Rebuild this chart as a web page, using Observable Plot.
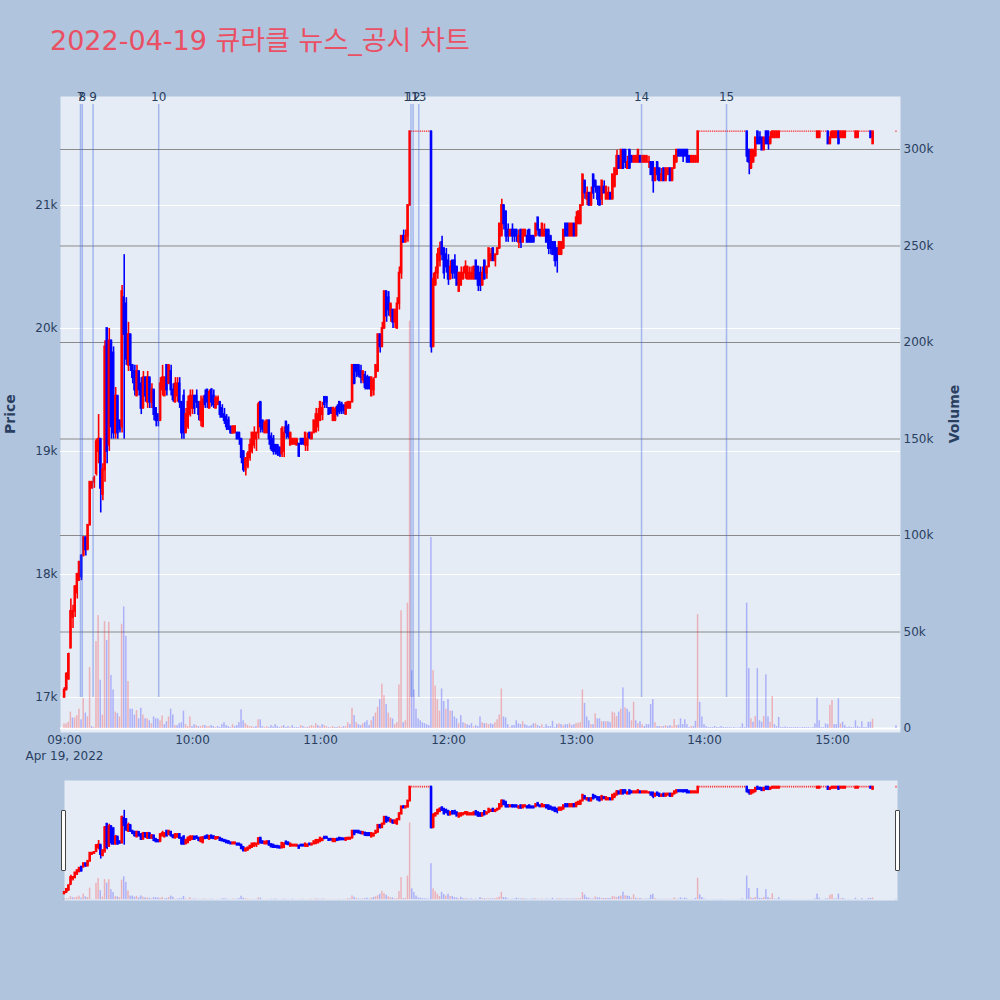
<!DOCTYPE html>
<html><head><meta charset="utf-8">
<script src="https://cdn.jsdelivr.net/npm/d3@7"></script>
<script src="https://cdn.jsdelivr.net/npm/@observablehq/plot@0.6"></script>
<style>
html,body{margin:0;padding:0;background:#B0C4DE;}
#root{position:relative;width:1000px;height:1000px;background:#B0C4DE;overflow:hidden;font-family:"DejaVu Sans","Noto Sans CJK KR",sans-serif;}
#root svg{position:absolute;left:0;}
#title{position:absolute;left:50px;top:27px;font-size:27px;line-height:27px;color:#EA4F63;white-space:nowrap;font-family:"DejaVu Sans","Noto Sans CJK KR",sans-serif;}
.ytitle{position:absolute;width:100px;height:18px;line-height:18px;text-align:center;font-size:14px;font-weight:bold;color:#2a3f5f;transform:rotate(-90deg);font-family:"DejaVu Sans",sans-serif;}
.handle{position:absolute;width:3px;height:59px;background:#fff;border:1px solid #444;border-radius:1px;}
</style></head>
<body><div id="root"></div>
<script>
// ---- data ----
const titleText = "2022-04-19 큐라클 뉴스_공시 차트";
const dateLabel = "Apr 19, 2022";
const yTitle = "Price";
const y2Title = "Volume";
const priceTicks = [17000, 18000, 19000, 20000, 21000];
const volumeTicks = [0, 50000, 100000, 150000, 200000, 250000, 300000];
const hourTicks = ["09:00", "10:00", "11:00", "12:00", "13:00", "14:00", "15:00"];
const eventLabels = ["7", "8", "9", "10", "11", "12", "13", "14", "15"];
const eventTimes = ["09:07:30", "09:08:20", "09:13:25", "09:44:10", "11:42:25", "11:43:25", "11:46:05", "13:30:30", "14:10:20"];
const limitPrice = 21600;
// [minute after 09:00, open, high, low, close, volume (thousand shares)]
const bars = [
[0,17000,17080,17000,17060,2.4],[1,17060,17200,17060,17190,2.4],[2,17150,17360,17140,17350,3.3],[3,17400,17800,17400,17700,8.5],
[4,17650,17750,17560,17700,5.5],[5,17700,17910,17650,17900,5.5],[6,17850,18010,17800,18000,6.7],[7,17950,18100,17950,18100,10],
[8,18150,18160,17950,17980,4.5],[9,18150,18300,18150,18300,15.5],[10,18300,18300,18150,18200,8],[11,18200,18400,18200,18400,6],
[12,18400,18750,18400,18750,31.6],[13,18700,18750,18700,18750,1],[14,18750,18800,18700,18780,0.5],[15,18820,19100,18800,19080,45],
[16,19000,19300,18900,19100,58.5],[17,19100,19100,18500,18700,25],[18,18650,18900,18600,18850,7],[19,18850,19900,18750,19850,55.4],
[20,20000,20000,18900,19000,45.6],[21,19050,20000,19000,19900,55],[22,19900,19900,19100,19200,27.5],[23,19800,19850,19100,19150,20],
[24,19150,19520,19100,19450,8.5],[25,19450,19450,19100,19150,7.8],[26,19250,19250,19150,19180,6],[27,19200,20350,19150,20300,54],
[28,20250,20600,19100,19950,63],[29,20200,20250,19700,19750,47.7],[30,19700,20050,19650,19950,24.4],[31,19950,19950,19650,19700,10],
[32,19700,19700,19550,19600,10],[33,19650,19700,19450,19500,7],[34,19450,19700,19450,19650,9.3],[35,19650,19650,19450,19500,5],
[36,19550,19600,19300,19350,10.5],[37,19350,19650,19350,19600,7],[38,19600,19600,19400,19450,5],[39,19400,19650,19350,19600,5],
[40,19600,19600,19350,19400,4],[41,19400,19550,19350,19500,2.5],[42,19500,19500,19250,19300,6],[43,19350,19350,19200,19250,5],
[44,19300,19300,19200,19250,5],[45,19250,19600,19250,19550,4],[46,19500,19700,19450,19600,6.5],[47,19450,19600,19450,19600,2],
[48,19700,19700,19450,19500,3.5],[49,19550,19700,19550,19700,6],[50,19650,19700,19450,19500,10],[51,19500,19550,19400,19420,7],
[52,19400,19600,19400,19550,1.5],[53,19450,19600,19400,19550,1.5],[54,19550,19600,19350,19400,2.5],[55,19400,19400,19100,19150,3],
[56,19450,19500,19100,19150,9],[57,19150,19350,19150,19300,2],[58,19200,19450,19180,19400,1],[59,19300,19500,19280,19450,6],
[60,19350,19500,19300,19450,1],[61,19450,19450,19300,19350,2],[62,19450,19500,19350,19400,1.5],[63,19400,19400,19250,19300,1],
[64,19250,19450,19200,19400,1],[65,19200,19450,19200,19420,1.5],[66,19450,19500,19350,19380,1.5],[67,19500,19500,19350,19400,1],
[68,19350,19500,19350,19480,1],[69,19500,19510,19360,19400,1.5],[70,19450,19500,19350,19380,1],[71,19350,19450,19350,19430,0.5],
[72,19380,19450,19380,19430,1],[73,19400,19400,19270,19300,0.5],[74,19350,19380,19270,19280,2],[75,19300,19350,19220,19250,3],
[76,19280,19300,19170,19200,1.5],[77,19250,19280,19170,19180,1],[78,19200,19200,19140,19150,0.5],[79,19150,19210,19140,19200,2],
[80,19150,19210,19150,19200,1],[81,19150,19150,19100,19100,1.5],[82,19150,19150,19050,19100,3],[83,19100,19100,18900,18950,9.7],
[84,19000,19000,18830,18850,4],[85,18850,18950,18800,18940,2.5],[86,18880,19000,18860,18980,1.5],[87,18950,19100,18920,19050,1],
[88,19000,19150,18980,19150,1],[89,19050,19200,19020,19150,0.5],[90,19100,19150,19000,19150,1],[91,19150,19400,19100,19380,4.5],
[92,19400,19400,19150,19200,4.5],[93,19250,19250,19150,19180,1],[94,19150,19250,19150,19230,0.5],[95,19150,19250,19150,19250,1],
[96,19250,19250,19050,19100,0.5],[97,19120,19150,19000,19020,1.5],[98,19100,19130,18970,19000,0.8],[99,19050,19050,18970,19000,2],
[100,19050,19050,18960,18980,1],[101,19030,19030,18950,18970,0.5],[102,18980,19200,18950,19180,1],[103,19000,19200,18950,19150,1.5],
[104,19240,19240,19100,19150,0.5],[105,19200,19220,19100,19120,1],[106,19050,19150,19050,19150,0.5],[107,19060,19100,19050,19100,1.5],
[108,19060,19100,19050,19100,0.5],[109,19050,19100,19050,19100,0.5],[110,19060,19060,18950,18960,0.5],[111,19100,19100,19050,19060,1.5],
[112,19100,19100,19050,19060,1],[113,19050,19150,19000,19150,0.5],[114,19050,19150,19000,19100,0.5],[115,19150,19150,19100,19110,1],
[116,19100,19150,19100,19150,1.5],[117,19150,19250,19150,19250,1],[118,19160,19350,19150,19300,2.5],[119,19200,19350,19160,19300,1.5],
[120,19250,19400,19250,19400,1],[121,19300,19400,19250,19350,2],[122,19440,19440,19350,19380,1.5],[123,19440,19440,19350,19400,1],
[124,19350,19350,19300,19300,0.5],[125,19350,19360,19300,19310,0.5],[126,19250,19360,19250,19350,1],[127,19250,19360,19250,19340,0.5],
[128,19360,19380,19280,19300,0.5],[129,19400,19400,19300,19320,1],[130,19380,19400,19300,19330,0.5],[131,19370,19380,19300,19330,1],
[132,19300,19400,19300,19390,1],[133,19350,19400,19350,19400,3],[134,19350,19400,19350,19400,2],[135,19400,19700,19400,19700,10.5],
[136,19700,19700,19550,19550,6.7],[137,19700,19700,19600,19650,3],[138,19700,19700,19600,19620,2],[139,19650,19700,19550,19600,1.5],
[140,19580,19650,19550,19650,2.5],[141,19620,19650,19500,19520,3],[142,19600,19620,19500,19510,4],[143,19600,19600,19500,19510,1.5],
[144,19450,19600,19450,19600,4],[145,19500,19600,19450,19580,6],[146,19600,19700,19600,19700,8],[147,19650,19950,19650,19950,11],
[148,19950,19950,19800,19850,15],[149,19850,20050,19850,20000,23],[150,20000,20300,20000,20300,17],[151,20300,20300,20050,20100,12.4],
[152,20250,20300,20100,20150,8],[153,20100,20200,20050,20200,5.5],[154,20150,20150,20000,20050,5],[155,20050,20150,20000,20150,2],
[156,20000,20250,20000,20200,3],[157,20200,20500,20150,20450,22.6],[158,20450,20750,20400,20750,61],[159,20750,20800,20700,20700,3],
[160,20700,20800,20700,20750,4],[161,20750,21000,20700,21000,65],[162,21000,21600,21000,21600,211],
[172,21600,21600,19800,19850,99],[173,19850,20450,19850,20400,30],[174,20350,20500,20350,20450,22],[175,20450,20650,20400,20600,15],
[176,20550,20700,20500,20650,9],[177,20700,20750,20550,20600,20.5],[178,20650,20650,20400,20450,14],[179,20600,20650,20450,20500,10],
[180,20550,20600,20350,20400,15],[181,20400,20550,20400,20500,9],[182,20550,20550,20400,20450,9],[183,20550,20600,20400,20450,6],
[184,20500,20500,20350,20350,5],[185,20300,20450,20300,20450,2.5],[186,20350,20500,20350,20450,6.7],[187,20400,20500,20400,20450,3],
[188,20450,20550,20400,20500,2.5],[189,20400,20500,20400,20500,2],[190,20400,20500,20400,20450,1.5],[191,20400,20500,20400,20450,2.5],
[192,20400,20500,20400,20500,0.8],[193,20550,20550,20400,20400,1.5],[194,20500,20500,20300,20350,1],[195,20450,20500,20300,20350,6],
[196,20350,20500,20350,20450,3],[197,20550,20550,20400,20400,2.5],[198,20450,20500,20400,20500,2.5],[199,20500,20650,20500,20650,2],
[200,20550,20650,20550,20600,2.5],[201,20650,20650,20550,20550,2],[202,20550,20600,20500,20600,3],[203,20600,20650,20600,20650,4.5],
[204,20650,20850,20650,20850,7],[205,20750,21050,20750,21000,20.5],[206,21000,21000,20800,20850,6],[207,20950,20950,20700,20750,5.5],
[208,20800,20850,20700,20750,2],[209,20750,20800,20750,20800,0.5],[210,20800,20850,20700,20750,1.5],[211,20800,20800,20700,20750,1.5],
[212,20800,20800,20700,20750,4],[213,20700,20800,20650,20750,2.5],[214,20800,20800,20650,20700,2],[215,20700,20800,20700,20800,3.5],
[216,20750,20800,20750,20800,2],[217,20750,20800,20700,20700,1.5],[218,20800,20800,20700,20700,1],[219,20750,20750,20700,20700,1.5],
[220,20750,20750,20700,20700,2.5],[221,20750,20850,20750,20850,2.5],[222,20900,20900,20750,20800,1.5],[223,20800,20800,20750,20750,1],
[224,20750,20850,20750,20850,2],[225,20750,20850,20750,20800,0.5],[226,20800,20800,20700,20700,2],[227,20800,20800,20600,20650,1],
[228,20750,20750,20600,20650,1],[229,20700,20700,20600,20600,3.7],[230,20700,20700,20500,20550,0.5],[231,20650,20650,20450,20550,2],
[232,20600,20700,20600,20700,2.5],[233,20600,20700,20600,20700,2],[234,20650,20800,20650,20800,1.5],[235,20850,20850,20750,20750,2],
[236,20850,20850,20750,20750,2],[237,20750,20850,20750,20850,2.5],[238,20750,20850,20750,20850,1.5],[239,20850,20850,20750,20750,2],
[240,20750,20950,20750,20900,2.5],[241,20850,20950,20850,20950,2.7],[242,20850,21000,20850,21000,3],[243,21000,21250,21000,21250,20],
[244,21200,21200,21050,21100,13],[245,21050,21150,21000,21100,6],[246,21100,21100,21000,21000,4],[247,21000,21150,21000,21100,2],
[248,21250,21250,21050,21100,2],[249,21200,21200,21100,21150,7.6],[250,21150,21150,21000,21050,5],[251,21150,21150,21000,21000,5],
[252,21050,21200,21000,21200,3.5],[253,21150,21200,21100,21100,3.5],[254,21050,21150,21050,21150,3.5],[255,21050,21150,21050,21100,3.5],
[256,21100,21100,21050,21050,3],[257,21050,21250,21050,21250,8.5],[258,21150,21300,21150,21300,8],[259,21250,21450,21250,21400,6.2],
[260,21400,21400,21300,21300,8.5],[261,21300,21450,21300,21450,10],[262,21450,21450,21300,21300,21],[263,21450,21450,21300,21350,10.7],
[264,21300,21400,21300,21350,10],[265,21450,21450,21300,21300,8.5],[266,21400,21400,21350,21350,4],[267,21350,21400,21350,21400,13.6],
[268,21350,21400,21350,21400,4],[269,21350,21450,21350,21450,2.5],[270,21400,21400,21350,21350,3.5],[271,21350,21400,21350,21400,2],
[272,21350,21400,21350,21400,1],[273,21350,21400,21350,21400,2],[274,21350,21400,21300,21350,2],[275,21350,21350,21250,21250,12.4],
[276,21350,21350,21100,21200,15],[277,21200,21300,21200,21300,3],[278,21350,21350,21200,21250,1],[279,21300,21300,21200,21200,1],
[280,21200,21300,21200,21250,1],[281,21300,21300,21200,21200,1],[282,21200,21300,21200,21300,1.5],[283,21250,21300,21250,21300,1],
[284,21300,21300,21200,21200,1.5],[285,21200,21300,21200,21300,1],[286,21300,21400,21300,21400,4.7],[287,21350,21450,21350,21450,1.5],
[288,21450,21450,21400,21400,1.7],[289,21450,21450,21400,21400,5],[290,21450,21450,21350,21400,2],[291,21450,21450,21400,21400,4.5],
[292,21450,21450,21350,21350,2],[293,21400,21400,21350,21350,0.5],[294,21350,21400,21350,21400,1],[295,21350,21400,21350,21400,1],
[296,21350,21400,21350,21400,3.7],[297,21350,21600,21350,21600,59],
[320,21600,21600,21350,21400,65],[321,21450,21450,21250,21350,31],[322,21300,21450,21300,21450,5],[323,21350,21450,21350,21450,3.3],
[324,21400,21550,21400,21550,6.2],[325,21600,21600,21500,21500,31],[326,21550,21600,21500,21500,4],[327,21550,21550,21450,21450,3.3],
[328,21450,21550,21450,21550,6.2],[329,21600,21600,21500,21500,27.8],[330,21600,21600,21450,21500,6],[331,21500,21600,21500,21550,3.3],
[332,21550,21600,21550,21600,16.6],[333,21550,21600,21550,21600,2],[334,21550,21600,21550,21600,1],[335,21550,21600,21550,21600,5.7],
[353,21550,21600,21550,21600,15.7],[354,21550,21600,21550,21600,4],
[358,21600,21600,21500,21500,2],[359,21500,21600,21500,21550,12],[360,21550,21600,21550,21600,14.5],[361,21550,21600,21550,21600,2],
[362,21550,21600,21550,21600,2],[363,21600,21600,21500,21500,15.4],[364,21550,21600,21550,21600,2.4],[365,21550,21600,21550,21600,3.3],
[366,21550,21600,21550,21600,1.5],[371,21550,21600,21550,21600,4],[372,21550,21600,21550,21600,1],
[378,21600,21600,21550,21550,3.3],[379,21500,21600,21500,21600,4.8]
];
// minutes that traded flat at the upper limit price, and their volumes (thousand shares)
const limitMinutes = [163,164,165,166,167,168,169,170,171,
 298,299,300,301,302,303,304,305,306,307,308,309,310,311,312,313,314,315,316,317,318,319,
 336,337,338,339,340,341,342,343,344,345,346,347,348,349,350,351,352,
 355,356,357,367,368,369,370,373,374,375,376,377,390];
const limitVolumes = [30,20,10,5,4,3,2.5,2,1.5,
 13.5,6,2,1,0.5,0.5,0.5,1,0.5,0.5,1,0.5,0.5,0.5,0.5,0.3,0.5,0.3,0.3,0.5,2.4,0.5,
 0.5,0.5,0.8,0.5,0.5,0.5,0.5,0.5,0.5,0.3,0.5,0.5,0.5,0.5,0.3,0.5,2.4,
 0.5,0.5,2.4,0.5,0.8,0.5,0.5,0.5,3.5,0.5,0.5,3.2,1.4];

// ---- build table ----
const T = m => new Date(2022, 3, 19, 9, 0, Math.round(m * 60));
const parseT = d3.timeParse("%Y-%m-%d %H:%M:%S");
let rows = bars.map(([m, o, h, l, c, v]) => ({m, o, h, l, c, v: v * 1000}));
rows = rows.concat(limitMinutes.map((m, i) => ({m, o: limitPrice, h: limitPrice, l: limitPrice, c: limitPrice, v: limitVolumes[i] * 1000})));
rows.sort((a, b) => a.m - b.m);
rows.forEach((d, i) => {
  d.t = T(d.m);
  d.color = d.c >= d.o ? "#ff0000" : "#0000ff";
  d.vcolor = (i === 0 || d.c > rows[i - 1].c) ? "#ff0000" : "#0000ff";
  d.flat = d.h === d.l;
});
const moving = rows.filter(d => !d.flat);
const flat = rows.filter(d => d.flat);
const events = eventLabels.map((label, i) => ({label, t: parseT("2022-04-19 " + eventTimes[i])}));
const hourDates = hourTicks.map(h => parseT("2022-04-19 " + h + ":00"));

const priceDomain = [16715, 21886];
const volDomain = [-2070, 327460];
const fmtS = d3.format("~s");
const style = {background: "transparent", fontFamily: '"DejaVu Sans", sans-serif', fontSize: "12px", color: "#2a3f5f", overflow: "visible"};

const root = document.getElementById("root");
const title = document.createElement("div");
title.id = "title"; title.textContent = titleText; root.appendChild(title);

function place(svg, top) { svg.style.position = "absolute"; svg.style.top = top + "px"; svg.style.left = "0px"; root.appendChild(svg); }

const main = {width: 1000, height: 780, marginLeft: 60, marginRight: 100, marginTop: 96, marginBottom: 48, style,
  x: {type: "time", domain: [T(-1.875), T(391.875)], label: null}};

// layer 1: background + price grid
place(Plot.plot({...main, x: {...main.x, axis: null}, y: {domain: priceDomain, axis: null, label: null},
  marks: [
    Plot.frame({fill: "#E5ECF6", stroke: "none"}),
    Plot.gridY(priceTicks, {stroke: "#ffffff", strokeOpacity: 1, strokeWidth: 1})
  ]}), 0);

// layer 2: volume
place(Plot.plot({...main, x: {...main.x, axis: null}, y: {domain: volDomain, label: null},
  marks: [
    Plot.gridY(volumeTicks.slice(1), {stroke: "#8a8a8a", strokeOpacity: 1, strokeWidth: 1}),
    Plot.ruleY([0], {stroke: "#ffffff", strokeWidth: 2}),
    Plot.rect(rows, {x1: d => T(d.m - 0.35), x2: d => T(d.m + 0.35), y1: () => 0, y2: "v", fill: "vcolor", fillOpacity: 0.25}),
    Plot.axisY(volumeTicks, {anchor: "right", tickSize: 0, tickPadding: 3, tickFormat: fmtS, label: null})
  ]}), 0);

// layer 3: candles, events, axes
place(Plot.plot({...main, y: {domain: priceDomain, label: null},
  marks: [
    Plot.ruleX(moving, {x: "t", y1: "l", y2: "h", stroke: "color", strokeWidth: 1.6}),
    Plot.rect(moving, {x1: d => T(d.m - 0.56), x2: d => T(d.m + 0.56), y1: "o", y2: "c", fill: "color", insetTop: -0.9, insetBottom: -0.9}),
    Plot.rect(flat, {x1: d => T(d.m - 0.3), x2: d => T(d.m + 0.3), y1: "o", y2: "c", fill: "#ff0000", fillOpacity: 0.75, insetTop: -0.7, insetBottom: -0.7}),
    Plot.ruleX(events, {x: "t", y1: () => 17000, y2: () => 21820, stroke: "#4169e1", strokeOpacity: 0.4, strokeWidth: 1.5}),
    Plot.text(events, {x: "t", text: "label", frameAnchor: "top", lineAnchor: "middle", dy: 1, fill: "#2a3f5f"}),
    Plot.axisY(priceTicks, {anchor: "left", tickSize: 0, tickPadding: 3, tickFormat: fmtS, label: null}),
    Plot.axisX(hourDates, {anchor: "bottom", tickSize: 0, tickPadding: 3, tickFormat: d3.timeFormat("%H:%M"), label: null}),
    Plot.text([hourDates[0]], {x: d => d, text: () => dateLabel, frameAnchor: "bottom", lineAnchor: "top", dy: 19, fill: "#2a3f5f"})
  ]}), 0);

// range slider
const slider = {width: 1000, height: 120, marginLeft: 64, marginRight: 103, marginTop: 0, marginBottom: 0, style,
  x: {type: "time", domain: [T(0), T(390.47)], axis: null, label: null}};
place(Plot.plot({...slider, y: {domain: volDomain, axis: null, label: null},
  marks: [
    Plot.frame({fill: "#E5ECF6", stroke: "none"}),
    Plot.rect(rows, {x1: d => T(d.m - 0.35), x2: d => T(d.m + 0.35), y1: () => 0, y2: "v", fill: "vcolor", fillOpacity: 0.25})
  ]}), 780);
place(Plot.plot({...slider, y: {domain: priceDomain, axis: null, label: null},
  marks: [
    Plot.ruleX(moving, {x: "t", y1: "l", y2: "h", stroke: "color", strokeWidth: 1.6}),
    Plot.rect(moving, {x1: d => T(d.m - 0.56), x2: d => T(d.m + 0.56), y1: "o", y2: "c", fill: "color", insetTop: -1, insetBottom: -1}),
    Plot.rect(flat, {x1: d => T(d.m - 0.3), x2: d => T(d.m + 0.3), y1: "o", y2: "c", fill: "#ff0000", fillOpacity: 0.75, insetTop: -0.9, insetBottom: -0.9})
  ]}), 780);

// slider handles
[[61, 810], [895, 810]].forEach(([l, t]) => {
  const h = document.createElement("div"); h.className = "handle";
  h.style.left = l + "px"; h.style.top = t + "px"; root.appendChild(h);
});

// axis titles
const pt = document.createElement("div"); pt.className = "ytitle"; pt.textContent = yTitle;
pt.style.left = (10 - 50) + "px"; pt.style.top = (414 - 9) + "px"; root.appendChild(pt);
const vt = document.createElement("div"); vt.className = "ytitle"; vt.textContent = y2Title;
vt.style.left = (954 - 50) + "px"; vt.style.top = (414 - 9) + "px"; root.appendChild(vt);
</script></body></html>
